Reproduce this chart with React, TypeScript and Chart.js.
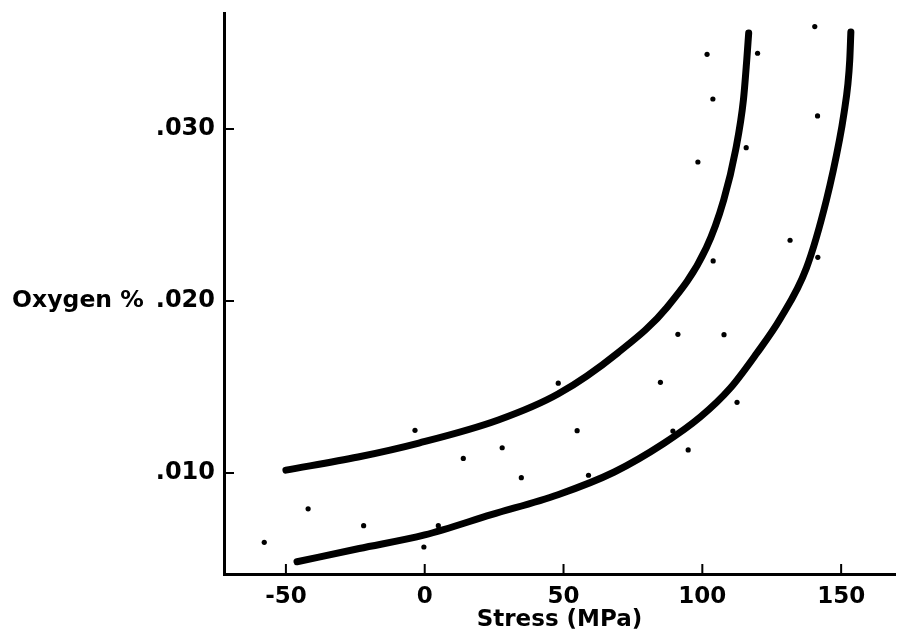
import React, { useEffect, useRef } from "react";
import { Chart, registerables } from "chart.js";

Chart.register(...registerables);

// Axis ticks
const xTicks = [-50, 0, 50, 100, 150];
const yTicks = [0.01, 0.02, 0.03];
const xTitle = "Stress (MPa)";
const yTitle = "Oxygen %";
const yTitleAt = 0.02;

// Upper band curve
const upperX = [-50, -24, -2.1, 26.5, 48, 69.5, 87.4, 101.4, 107.7, 112, 114.8, 116, 116.7];
const upperY = [0.01017, 0.01093, 0.01174, 0.01308, 0.01459, 0.01698, 0.01965, 0.02308, 0.02587, 0.02878, 0.03169, 0.03401, 0.03558];

// Lower band curve
const lowerX = [-46, -23.6, 0, 24, 48, 68.3, 86.2, 99.3, 110.1, 119.6, 128, 137.5, 144.7, 149.4, 151.1, 152.4, 153.1, 153.5];
const lowerY = [0.00484, 0.00561, 0.0064, 0.00758, 0.00874, 0.01006, 0.01173, 0.01326, 0.01494, 0.01696, 0.01895, 0.02192, 0.02587, 0.02936, 0.03099, 0.03256, 0.03401, 0.03564];

// Measured points
const pointX = [101.7, 119.9, 103.8, 115.8, 98.4, 140.5, 141.5, 131.6, 141.6, 103.9, 91.2, 107.8, 48.1, 84.9, 112.5, 54.9, 89.4, 27.9, 13.9, 94.9, 34.8, 59.0, -3.5, -42.0, -22.0, 4.9, -57.8, -0.3];
const pointY = [0.03434, 0.0344, 0.03174, 0.02891, 0.02808, 0.03595, 0.03076, 0.02353, 0.02254, 0.02233, 0.01806, 0.01804, 0.01522, 0.01527, 0.01411, 0.01246, 0.01244, 0.01147, 0.01085, 0.01134, 0.00973, 0.00987, 0.01248, 0.00792, 0.00694, 0.00694, 0.00597, 0.0057];

const FONT = '"DejaVu Sans", "Liberation Sans", Arial, sans-serif';
const Y_PAD = 9;

const fmtY = (v: number) => v.toFixed(3).replace(/^0/, "");

const decor = {
  id: "decor",
  afterDraw(chart: any) {
    const { ctx, chartArea, scales } = chart;
    const xs = scales.x;
    const ys = scales.y;
    ctx.save();
    ctx.strokeStyle = "#000";
    ctx.lineWidth = 2;
    ctx.beginPath();
    xTicks.forEach((v) => {
      const px = xs.getPixelForValue(v);
      ctx.moveTo(px, chartArea.bottom);
      ctx.lineTo(px, chartArea.bottom - 10);
    });
    yTicks.forEach((v) => {
      const py = ys.getPixelForValue(v);
      ctx.moveTo(chartArea.left, py);
      ctx.lineTo(chartArea.left + 10, py);
    });
    ctx.stroke();
    ctx.font = `bold 24px ${FONT}`;
    const labelW = ctx.measureText(fmtY(yTitleAt)).width;
    ctx.font = `bold 23.5px ${FONT}`;
    ctx.textAlign = "right";
    ctx.textBaseline = "middle";
    ctx.fillStyle = "#000";
    ctx.fillText(yTitle, chartArea.left - Y_PAD - labelW - 12, ys.getPixelForValue(yTitleAt));
    ctx.restore();
  },
};

export default function App() {
  const ref = useRef<HTMLCanvasElement>(null);
  useEffect(() => {
    if (!ref.current) return;
    const upper = upperX.map((x, i) => ({ x, y: upperY[i] }));
    const lower = lowerX.map((x, i) => ({ x, y: lowerY[i] }));
    const pts = pointX.map((x, i) => ({ x, y: pointY[i] }));
    const curve = {
      type: "line",
      borderColor: "#000",
      borderWidth: 7,
      borderCapStyle: "round",
      borderJoinStyle: "round",
      pointRadius: 0,
      cubicInterpolationMode: "monotone",
      fill: false,
    };
    const chart = new Chart(ref.current, {
      type: "scatter",
      data: {
        datasets: [
          { ...curve, data: upper } as any,
          { ...curve, data: lower } as any,
          {
            type: "scatter",
            data: pts,
            backgroundColor: "#000",
            borderColor: "#000",
            borderWidth: 0,
            pointRadius: 2.6,
          } as any,
        ],
      },
      options: {
        responsive: false,
        animation: false,
        layout: { padding: { top: 13, right: 0, left: 0, bottom: 0 } },
        plugins: { legend: { display: false }, tooltip: { enabled: false } },
        scales: {
          x: {
            type: "linear",
            min: -72.3,
            max: 169.4,
            afterBuildTicks: (s: any) => {
              s.ticks = xTicks.map((v) => ({ value: v }));
            },
            afterFit: (s: any) => {
              s.height = 63;
              s.paddingLeft = 0;
              s.paddingRight = 0;
            },
            grid: { display: false, drawTicks: false },
            border: { display: true, color: "#000", width: 3 },
            ticks: {
              autoSkip: false,
              maxRotation: 0,
              padding: 9,
              color: "#000",
              font: { family: FONT, size: 23, weight: "bold" },
              callback: (v: any) => String(v),
            },
            title: {
              display: true,
              text: xTitle,
              color: "#000",
              font: { family: FONT, size: 23, weight: "bold" },
              padding: { top: 0, bottom: 3 },
            },
          },
          y: {
            type: "linear",
            min: 0.00413,
            max: 0.03674,
            afterBuildTicks: (s: any) => {
              s.ticks = yTicks.map((v) => ({ value: v }));
            },
            afterFit: (s: any) => {
              s.width = 224;
              s.paddingTop = 0;
              s.paddingBottom = 0;
            },
            grid: { display: false, drawTicks: false },
            border: { display: true, color: "#000", width: 3 },
            ticks: {
              autoSkip: false,
              padding: Y_PAD,
              color: "#000",
              font: { family: FONT, size: 24, weight: "bold" },
              callback: (v: any) => fmtY(Number(v)),
            },
          },
        },
      },
      plugins: [decor],
    } as any);
    return () => chart.destroy();
  }, []);
  return (
    <div style={{ position: "fixed", left: 0, top: 0, width: 899, height: 637, background: "#fff" }}>
      <canvas ref={ref} width={899} height={637} />
    </div>
  );
}
